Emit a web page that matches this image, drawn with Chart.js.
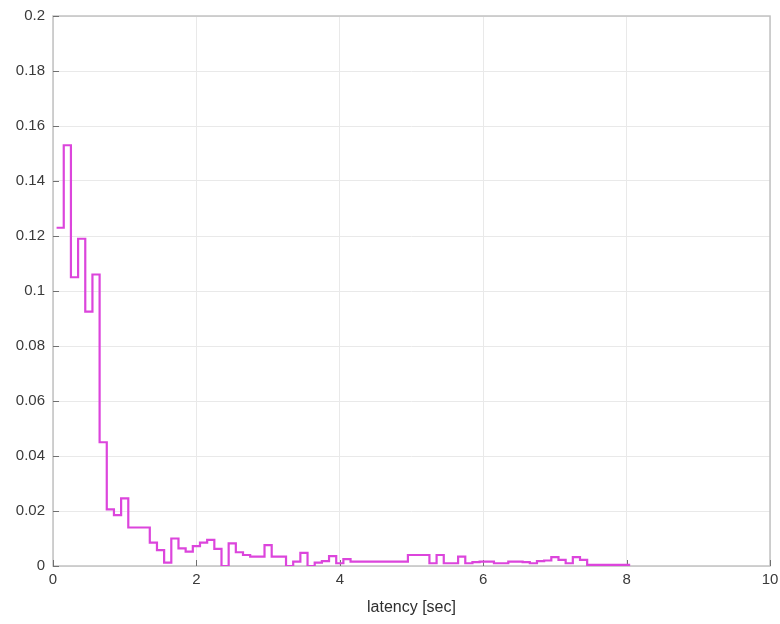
<!DOCTYPE html>
<html>
<head>
<meta charset="utf-8">
<title>latency histogram</title>
<script src="https://cdn.jsdelivr.net/npm/chart.js@4/dist/chart.umd.min.js"></script>
<style>
  html, body { margin: 0; padding: 0; background: #ffffff; }
  #wrap { width: 780px; height: 624px; }
</style>
</head>
<body>
<div id="wrap"><canvas id="c" width="780" height="624"></canvas></div>
<script>
// Left edge of each latency bin [sec]
const binStarts = [
  0.05, 0.15, 0.25, 0.35, 0.45, 0.55, 0.65, 0.75, 0.85, 0.95,
  1.05, 1.15, 1.25, 1.35, 1.45, 1.55, 1.65, 1.75, 1.85, 1.95,
  2.05, 2.15, 2.25, 2.35, 2.45, 2.55, 2.65, 2.75, 2.85, 2.95,
  3.05, 3.15, 3.25, 3.35, 3.45, 3.55, 3.65, 3.75, 3.85, 3.95,
  4.05, 4.15, 4.25, 4.35, 4.45, 4.55, 4.65, 4.75, 4.85, 4.95,
  5.05, 5.15, 5.25, 5.35, 5.45, 5.55, 5.65, 5.75, 5.85, 5.95,
  6.05, 6.15, 6.25, 6.35, 6.45, 6.55, 6.65, 6.75, 6.85, 6.95,
  7.05, 7.15, 7.25, 7.35, 7.45, 7.55, 7.65, 7.75, 7.85, 7.95
];
// Right edge of the last bin
const lastBinEnd = 8.05;

// Fraction of requests falling in each bin
const fraction = [
  0.123, 0.153, 0.105, 0.119, 0.0925, 0.106, 0.045, 0.0206, 0.0185, 0.0246,
  0.014, 0.014, 0.014, 0.0085, 0.0058, 0.0012, 0.0100, 0.0064, 0.0052, 0.0072,
  0.0085, 0.0095, 0.0062, 0.0, 0.0082, 0.0050, 0.0040, 0.0034, 0.0034, 0.0076,
  0.0034, 0.0034, 0.0, 0.0016, 0.0048, 0.0, 0.0012, 0.0018, 0.0036, 0.0010,
  0.0025, 0.0016, 0.0016, 0.0016, 0.0016, 0.0016, 0.0016, 0.0016, 0.0016, 0.0040,
  0.0040, 0.0040, 0.0010, 0.0040, 0.0010, 0.0010, 0.0034, 0.0010, 0.0014, 0.0016,
  0.0016, 0.0010, 0.0010, 0.0016, 0.0016, 0.0014, 0.0010, 0.0018, 0.0020, 0.0032,
  0.0022, 0.0010, 0.0032, 0.0022, 0.0004, 0.0004, 0.0004, 0.0004, 0.0004, 0.0004
];

const xTickLabels = ['0', '2', '4', '6', '8', '10'];
const yTickLabels = ['0', '0.02', '0.04', '0.06', '0.08', '0.1', '0.12', '0.14', '0.16', '0.18', '0.2'];

// Stairs: one point per bin start, plus the closing edge at the last value
const stairPoints = binStarts.map((x, i) => ({ x: x, y: fraction[i] }));
stairPoints.push({ x: lastBinEnd, y: fraction[fraction.length - 1] });

const tickFont = { family: "'Liberation Sans', Arial, Helvetica, sans-serif", size: 15 };
const tickColor = '#3a3a3a';
const gridColor = '#e9e9e9';

// Box around the axes with short inward tick marks
const axesBox = {
  id: 'axesBox',
  beforeDatasetsDraw(chart) {
    const { ctx, chartArea: a, scales } = chart;
    ctx.save();
    ctx.strokeStyle = '#c2c2c2';
    ctx.lineWidth = 1.5;
    ctx.strokeRect(a.left, a.top, a.right - a.left, a.bottom - a.top);
    ctx.strokeStyle = '#707070';
    ctx.lineWidth = 1;
    ctx.beginPath();
    scales.x.ticks.forEach(t => {
      const px = Math.round(scales.x.getPixelForValue(t.value)) + 0.5;
      ctx.moveTo(px, a.bottom);
      ctx.lineTo(px, a.bottom - 6);
    });
    scales.y.ticks.forEach(t => {
      const py = Math.round(scales.y.getPixelForValue(t.value)) + 0.5;
      ctx.moveTo(a.left, py);
      ctx.lineTo(a.left + 6, py);
    });
    ctx.stroke();
    ctx.restore();
  }
};

new Chart(document.getElementById('c'), {
  type: 'line',
  data: {
    datasets: [{
      data: stairPoints,
      stepped: true,
      borderColor: '#dc45dc',
      borderWidth: 2.2,
      pointRadius: 0,
      fill: false
    }]
  },
  options: {
    responsive: false,
    animation: false,
    devicePixelRatio: 1,
    layout: { padding: { top: 16, right: 10, left: 0, bottom: 0 } },
    plugins: {
      legend: { display: false },
      tooltip: { enabled: false }
    },
    scales: {
      x: {
        type: 'linear',
        min: 0,
        max: 10,
        afterFit(scale) {
          scale.height = 58;
          scale.paddingLeft = 0;
          scale.paddingRight = 0;
        },
        ticks: {
          stepSize: 2,
          maxRotation: 0,
          padding: 5,
          font: tickFont,
          color: tickColor,
          callback: (v, i) => xTickLabels[i]
        },
        grid: { color: gridColor, drawTicks: false },
        border: { display: false },
        title: {
          display: true,
          text: 'latency [sec]',
          color: '#2e2e2e',
          font: { family: "'Liberation Sans', Arial, Helvetica, sans-serif", size: 16 },
          padding: { top: 4, bottom: 7 }
        }
      },
      y: {
        type: 'linear',
        min: 0,
        max: 0.2,
        afterFit(scale) {
          scale.width = 53;
          scale.paddingTop = 0;
          scale.paddingBottom = 0;
        },
        ticks: {
          stepSize: 0.02,
          padding: 8,
          font: tickFont,
          color: tickColor,
          callback: (v, i) => yTickLabels[i]
        },
        grid: { color: gridColor, drawTicks: false },
        border: { display: false }
      }
    }
  },
  plugins: [axesBox]
});
</script>
</body>
</html>
